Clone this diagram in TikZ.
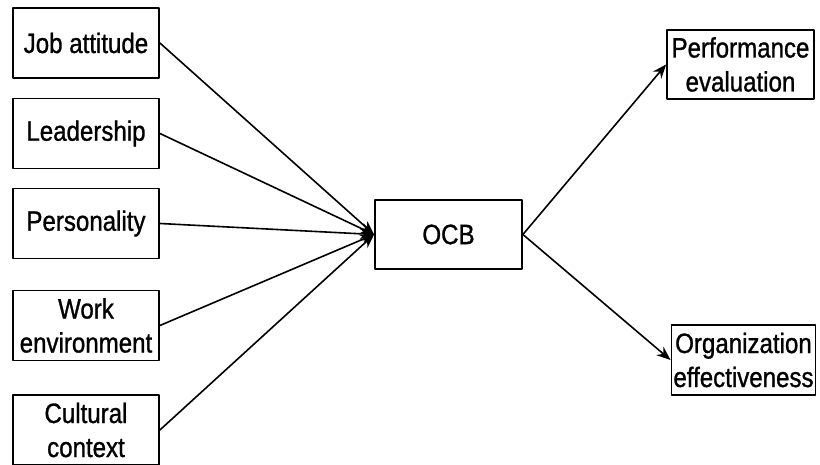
\documentclass[tikz,border=0pt]{standalone}
\usepackage{fontspec}
\setmainfont{Liberation Sans}[FakeStretch=0.86,FakeBold=1]
\usetikzlibrary{arrows.meta}
\tikzset{
	factor/.style={draw, line width=1.8pt, minimum width=146pt, minimum height=69pt, inner sep=2pt, align=center},
	link/.style={->, line width=1.6pt}
}
\begin{document}
\begin{tikzpicture}[x=1pt, y=1pt, >={Stealth[length=14pt,width=11pt]}, font=\fontsize{28}{34}\selectfont, line join=round, line cap=round]
	\useasboundingbox (0,0) rectangle (820,465);
	\fill[white] (0,0) rectangle (820,465);
	% left side
	\foreach \y/\n/\t in {422/job/{Job attitude}, 331.5/lead/Leadership, 241.5/pers/Personality, 139.5/work/{Work\\environment}, 35/cult/{Cultural\\context}}{
		\node[factor, minimum height=70pt] (\n) at (86,\y) {\t};
	}
	\node[factor, minimum width=147pt] (ocb) at (448.5,230.5) {OCB};
	% right side
	\node[factor, minimum width=147pt] (perf) at (740.5,400.5) {Performance\\evaluation};
	\node[factor, minimum width=143pt, minimum height=70pt] (org) at (743.5,105) {Organization\\effectiveness};
	\foreach \n in {job,lead,pers,work,cult}{
		\draw[link] (\n.east) -- (ocb.west);
	}
	\draw[link] (ocb.east) -- (perf.west);
	\draw[link] (ocb.east) -- (org.west);
\end{tikzpicture}
\end{document}
